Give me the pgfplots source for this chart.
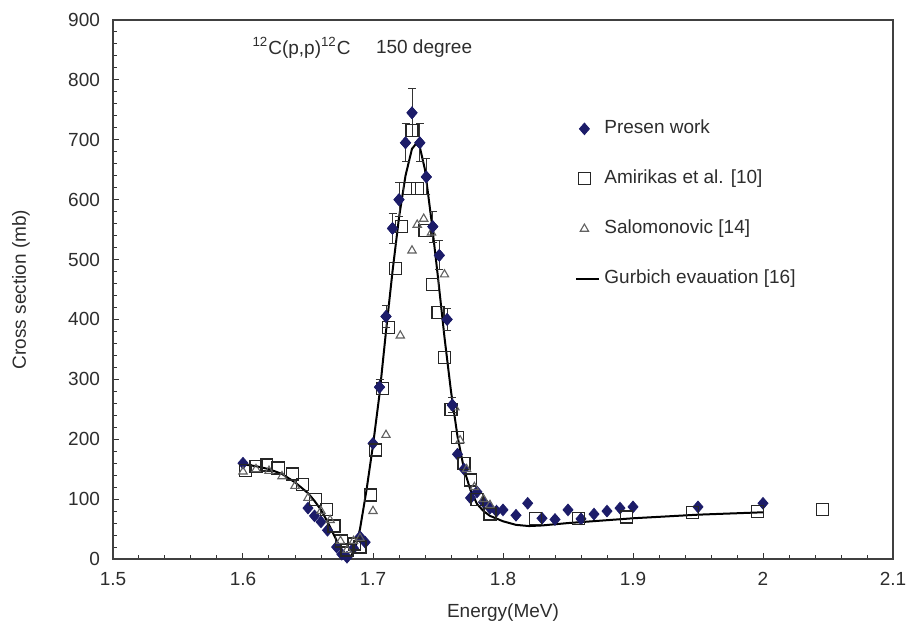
\documentclass[border=0pt]{standalone}
\usepackage{pgfplots}
\pgfplotsset{compat=1.18}
\usepackage{fontspec}
\setmainfont{Liberation Sans}
\definecolor{navy}{RGB}{28,28,105}
\definecolor{txt}{RGB}{45,45,45}
\pgfplotsset{
  markleg/.style={legend image code/.code={\draw[##1] plot coordinates {(4pt,0pt)};}},
  lineleg/.style={legend image code/.code={\draw[##1] plot coordinates {(0pt,0pt) (11.5pt,0pt)};}},
}
\begin{document}
\begin{tikzpicture}
\begin{axis}[
  scale only axis, width=390pt, height=269.5pt,
  xmin=1.5, xmax=2.1, ymin=0, ymax=900,
  xtick={1.5,1.6,1.7,1.8,1.9,2,2.1},
  ytick={0,100,200,300,400,500,600,700,800,900},
  minor x tick num=4, minor y tick num=4,
  tick align=inside, xtick pos=bottom, ytick pos=left,
  major tick length=3pt, minor tick length=2pt,
  axis line style={line width=0.6pt, black!75},
  every tick/.style={black!80, line width=0.5pt},
  font=\fontsize{9.5}{11}\selectfont,
  /pgf/number format/assume math mode=true,
  scaled x ticks=false, scaled y ticks=false,
  xticklabel style={text=txt, yshift=-3pt},
  yticklabel style={text=txt, xshift=-3pt},
  xlabel={Energy(MeV)}, ylabel={Cross section (mb)},
  x label style={at={(axis description cs:0.5,-0.1)}, anchor=center, text=txt},
  y label style={at={(axis description cs:-0.118,0.5)}, anchor=center, text=txt},
  legend style={draw=none, fill=none, inner sep=0pt, at={(axis cs:1.8554,593)}, anchor=west,
    row sep=12pt, nodes={text height=7pt, text depth=2pt, text=txt}},
  legend cell align=left,
  clip=false,
]
% Present work
\addplot[only marks, mark=diamond*, mark size=2.9pt, color=navy, mark options={fill=navy, xscale=1.15}, markleg]
  coordinates {
  (1.600,160) (1.650,85) (1.655,72) (1.660,62) (1.665,48) (1.672,20) (1.676,8) (1.680,3)
  (1.685,18) (1.690,37) (1.694,28) (1.700,193) (1.705,287) (1.710,405) (1.715,552)
  (1.720,600) (1.725,695) (1.730,745) (1.736,695) (1.741,638) (1.746,555) (1.751,507)
  (1.757,400) (1.761,257) (1.765,175) (1.770,150) (1.775,102) (1.780,112) (1.785,95)
  (1.790,85) (1.795,80) (1.800,82) (1.810,73) (1.819,93) (1.830,68) (1.840,66)
  (1.850,82) (1.860,67) (1.870,75) (1.880,80) (1.890,85) (1.900,87) (1.950,87) (2.000,93)
  };
\addlegendentry{Presen work}
% Amirikas
\addplot[only marks, mark=square, mark size=3pt, color=black!85, mark options={line width=0.6pt}, markleg]
  coordinates {
  (1.602,148) (1.610,155) (1.618,157) (1.627,152) (1.638,142) (1.646,124) (1.656,100)
  (1.664,82) (1.670,55) (1.676,30) (1.680,15) (1.686,25) (1.690,20) (1.698,107) (1.702,182)
  (1.707,285) (1.712,387) (1.717,485) (1.722,555) (1.728,618) (1.730,715) (1.734,618)
  (1.740,548) (1.746,458) (1.750,412) (1.755,337) (1.760,250) (1.765,203) (1.770,160)
  (1.775,132) (1.780,100) (1.790,75) (1.825,68) (1.858,67) (1.895,70) (1.946,77) (1.996,79) (2.046,82)
  };
\addlegendentry{Amirikas et al. [10]}
% Salomonovic
\addplot[only marks, mark=triangle, mark size=2.4pt, color=black!62, mark options={line width=0.55pt}, markleg]
  coordinates {
  (1.600,146) (1.610,150) (1.620,147) (1.630,138) (1.640,122) (1.650,102) (1.660,80)
  (1.667,65) (1.675,30) (1.680,15) (1.685,30) (1.690,35) (1.700,80) (1.710,207)
  (1.721,373) (1.730,515) (1.734,558) (1.739,568) (1.745,545) (1.755,475) (1.763,253)
  (1.767,198) (1.772,150) (1.778,120) (1.785,100) (1.790,90)
  };
\addlegendentry{Salomonovic [14]}
% Gurbich
\addplot[black, line width=1pt, mark=none, lineleg]
  coordinates {
  (1.600,158) (1.610,155) (1.620,150) (1.630,142) (1.640,128) (1.650,110) (1.655,97)
  (1.660,82) (1.665,62) (1.670,40) (1.675,17) (1.679,3) (1.682,2) (1.686,15) (1.690,50)
  (1.695,115) (1.700,190) (1.705,275) (1.710,380) (1.715,480) (1.720,570) (1.725,640)
  (1.730,685) (1.733,693) (1.736,688) (1.740,650) (1.745,565) (1.750,470) (1.755,370)
  (1.760,280) (1.765,205) (1.770,150) (1.775,115) (1.780,92) (1.785,80) (1.790,72)
  (1.800,63) (1.810,57) (1.820,55) (1.830,56) (1.850,60) (1.900,68) (1.950,74) (2.000,78)
  };
\addlegendentry{Gurbich evauation [16]}
% error bars on peak points
\addplot[only marks, mark=diamond*, mark size=2.9pt, color=navy, mark options={fill=navy, xscale=1.15}, forget plot,
  error bars/.cd, y dir=both, y explicit,
  error bar style={line width=0.5pt, color=black!80},
  error mark options={rotate=90, mark size=2pt, line width=0.5pt, color=black!80}]
  coordinates {
  (1.705,287) +- (0,12) (1.710,405) +- (0,18) (1.715,552) +- (0,25) (1.720,600) +- (0,28)
  (1.725,695) +- (0,32) (1.730,745) +- (0,40) (1.736,695) +- (0,32) (1.741,638) +- (0,30)
  (1.746,555) +- (0,26) (1.751,507) +- (0,24) (1.757,400) +- (0,18) (1.761,257) +- (0,12)
  };
\node[anchor=west, text=txt, inner sep=0pt] at (axis cs:1.607,853) {\textsuperscript{12}C(p,p)\textsuperscript{12}C};
\node[anchor=west, text=txt, inner sep=0pt] at (axis cs:1.702,853) {150 degree};
\end{axis}
\pgfresetboundingbox
\path (-56.5pt,-41pt) rectangle (398pt,279.5pt);
\end{tikzpicture}
\end{document}
